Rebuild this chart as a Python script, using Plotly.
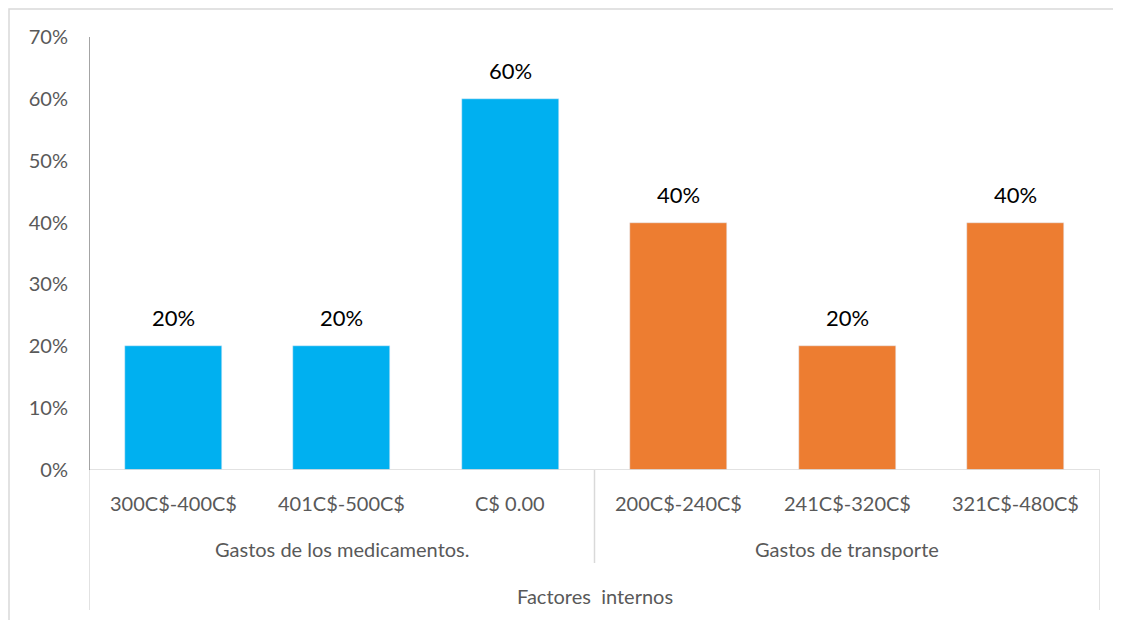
import plotly.graph_objects as go

categories = ["300C$-400C$", "401C$-500C$", "C$ 0.00", "200C$-240C$", "241C$-320C$", "321C$-480C$"]
values = [20, 20, 60, 40, 20, 40]
groups = ["Gastos de los medicamentos.", "Gastos de transporte"]
group_sizes = [3, 3]
super_label = "Factores  internos"
colors = ["#00B0F0", "#00B0F0", "#00B0F0", "#ED7D31", "#ED7D31", "#ED7D31"]
y_ticks = [0, 10, 20, 30, 40, 50, 60, 70]

FONT = "Lato"
OFF = 8  # body margin of the html page
W, H = 1121 - OFF, 620 - OFF
L, R, T, B = 89 - OFF, 21, 37 - OFF, 150
ph = H - T - B

def py(pix):
    # pix is a screen pixel y
    return (620 - B - pix) / ph

def px(pix):
    return (pix - 89) / (W - L - R)

xs = [i + 0.5 for i in range(len(categories))]

fig = go.Figure()
fig.add_trace(go.Bar(x=xs, y=values, marker_color=colors, width=0.575,
                     hoverinfo="skip", showlegend=False))

ann = []
for x, v in zip(xs, values):
    ann.append(dict(x=x, y=v, xref="x", yref="y", text=f"{v}%", showarrow=False,
                    yanchor="bottom", yshift=13, font=dict(family=FONT, size=22, color="#000000")))
for x, c in zip(xs, categories):
    ann.append(dict(x=x, y=py(503), xref="x", yref="paper", text=c, showarrow=False,
                    yanchor="middle", font=dict(family=FONT, size=20, color="#595959")))
start = 0
shapes = []
for g, n in zip(groups, group_sizes):
    ann.append(dict(x=start + n / 2, y=py(549), xref="x", yref="paper", text=g, showarrow=False,
                    yanchor="middle", font=dict(family=FONT, size=20, color="#595959")))
    start += n
ann.append(dict(x=len(categories) / 2, y=py(596), xref="x", yref="paper", text=super_label,
                showarrow=False, yanchor="middle", font=dict(family=FONT, size=20, color="#595959")))

line_light = dict(color="#D9D9D9", width=1.5)
shapes.append(dict(type="line", xref="x", yref="y", x0=0, x1=6, y0=0, y1=0, line=line_light))
shapes.append(dict(type="line", xref="x", yref="y", x0=0, x1=0, y0=0, y1=70, line=dict(color="#868686", width=1.5)))
shapes.append(dict(type="line", xref="x", yref="paper", x0=0, x1=0, y0=py(610), y1=0, line=line_light))
shapes.append(dict(type="line", xref="x", yref="paper", x0=3, x1=3, y0=py(563), y1=0, line=line_light))
shapes.append(dict(type="line", xref="x", yref="paper", x0=6, x1=6, y0=py(610), y1=0, line=line_light))
# outer chart border (left and top edges visible)
shapes.append(dict(type="rect", xref="paper", yref="paper",
                   x0=px(9), x1=px(1140), y0=py(640), y1=py(9),
                   line=dict(color="#D9D9D9", width=1.5)))

fig.update_layout(
    width=W, height=H,
    margin=dict(l=L, r=R, t=T, b=B),
    paper_bgcolor="white", plot_bgcolor="white",
    annotations=ann, shapes=shapes, bargap=0,
    xaxis=dict(range=[0, 6], showticklabels=False, showgrid=False, zeroline=False, showline=False, fixedrange=True),
    yaxis=dict(range=[0, 70], tickvals=y_ticks, ticktext=[f"{t}%" for t in y_ticks],
               showgrid=False, zeroline=False, showline=False, ticks="", ticklen=0,
               ticklabelstandoff=20,
               tickfont=dict(family=FONT, size=20, color="#595959"), fixedrange=True),
)
fig.write_html("out.html")
